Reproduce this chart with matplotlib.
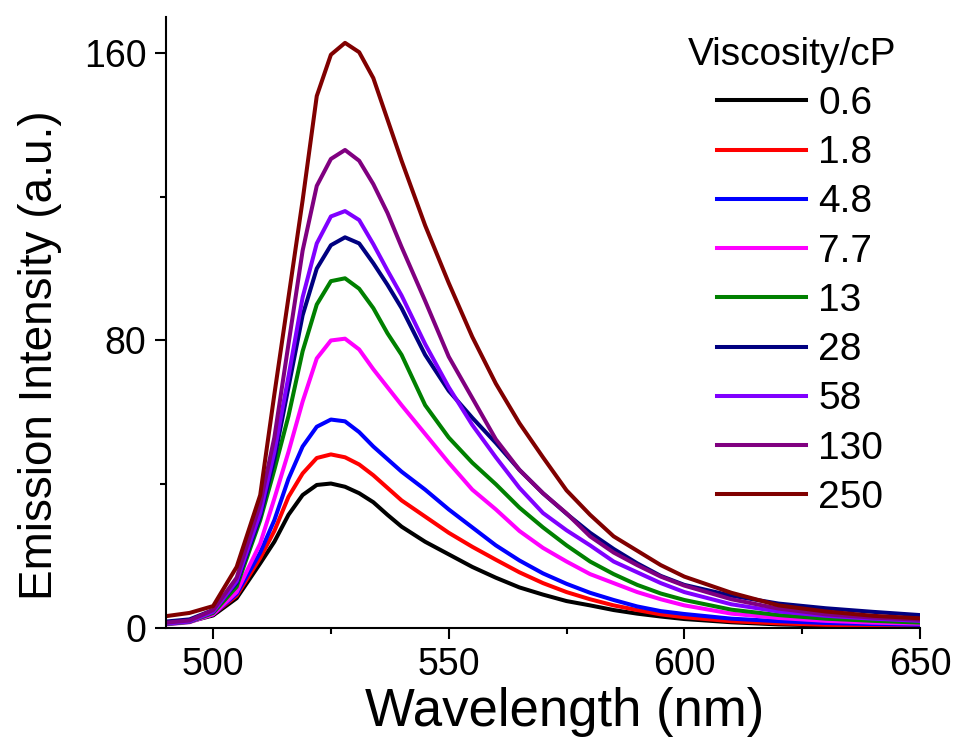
import numpy as np
import matplotlib
matplotlib.use('Agg')
import matplotlib.pyplot as plt
from matplotlib.ticker import MultipleLocator

plt.rcParams['font.family'] = ['Liberation Sans', 'DejaVu Sans']

# emission spectra sampled off the measurement, one array per viscosity
wavelength = [490, 495, 500, 505, 510, 513, 516, 519, 522, 525, 528, 531, 534, 537, 540,
              545, 550, 555, 560, 565, 570, 575, 580, 585, 590, 595, 600, 610, 620, 630, 640, 650]

em_0_6 = [1.3, 1.8, 3.5, 8.3, 18.0, 24.0, 31.5, 37.0, 39.8, 40.2, 39.3, 37.5, 35.0, 31.5, 28.2,
          24.0, 20.5, 17.0, 14.0, 11.3, 9.3, 7.5, 6.3, 5.0, 4.0, 3.2, 2.5, 1.6, 1.0, 0.7, 0.6, 0.5]
em_1_8 = [1.3, 1.9, 3.8, 9.0, 19.5, 27.0, 36.5, 43.0, 47.3, 48.3, 47.5, 45.5, 42.5, 39.0, 35.5,
          31.0, 26.5, 22.6, 19.0, 15.5, 12.5, 10.0, 8.0, 6.3, 5.0, 3.8, 3.0, 1.9, 1.3, 0.9, 0.7, 0.6]
em_4_8 = [1.2, 1.8, 3.8, 9.5, 21.0, 30.0, 41.5, 50.5, 56.0, 58.0, 57.5, 54.5, 50.5, 47.0, 43.5,
          38.5, 33.0, 28.0, 23.0, 18.8, 15.2, 12.3, 9.8, 7.8, 6.0, 4.7, 3.9, 2.6, 1.9, 1.4, 1.1, 0.9]
em_7_7 = [1.0, 1.6, 3.8, 10.0, 23.5, 36.0, 49.0, 63.0, 75.0, 80.0, 80.5, 77.5, 72.0, 67.0, 62.0,
          54.0, 46.0, 38.5, 33.0, 27.0, 22.3, 18.5, 15.0, 12.5, 10.0, 8.0, 6.3, 4.0, 2.8, 2.0, 1.5, 1.2]
em_13 = [1.1, 1.7, 4.2, 11.5, 30.0, 44.0, 59.0, 77.0, 90.0, 96.5, 97.3, 94.4, 89.0, 82.0, 76.0,
         62.0, 53.0, 46.0, 40.0, 33.5, 28.0, 23.0, 18.5, 15.0, 12.0, 9.6, 7.8, 5.1, 3.6, 2.6, 2.0, 1.5]
em_28 = [1.8, 2.4, 5.0, 12.5, 31.0, 47.0, 67.0, 87.0, 100.0, 106.5, 108.7, 107.0, 101.5, 95.5, 89.0,
         76.0, 66.0, 58.5, 51.5, 44.0, 37.5, 31.8, 26.5, 22.0, 18.0, 14.5, 12.0, 9.0, 6.8, 5.5, 4.5, 3.6]
em_58 = [1.2, 1.8, 4.5, 13.0, 32.0, 49.0, 70.0, 92.0, 107.0, 114.5, 116.0, 113.5, 106.8, 99.5, 92.5,
         79.0, 67.0, 56.5, 47.5, 39.0, 32.0, 27.2, 23.0, 18.5, 15.5, 12.5, 10.0, 6.6, 4.6, 3.4, 2.6, 2.0]
em_130 = [1.5, 2.1, 5.0, 14.0, 34.5, 53.0, 79.0, 105.0, 123.0, 130.5, 133.0, 130.0, 123.5, 115.5, 106.0,
          91.0, 75.5, 64.0, 52.5, 44.0, 37.5, 31.9, 25.5, 21.0, 17.5, 14.3, 11.8, 8.0, 5.4, 3.8, 2.9, 2.3]
em_250 = [3.3, 4.2, 6.1, 17.0, 37.0, 65.0, 92.0, 119.0, 148.0, 159.5, 162.8, 160.2, 153.0, 141.5, 130.0,
          112.0, 96.0, 81.0, 68.0, 57.0, 47.5, 38.3, 31.5, 25.5, 21.5, 17.5, 14.3, 9.8, 6.3, 4.6, 3.4, 2.7]

viscosity = ['0.6', '1.8', '4.8', '7.7', '13', '28', '58', '130', '250']
spectra = [em_0_6, em_1_8, em_4_8, em_7_7, em_13, em_28, em_58, em_130, em_250]
colors = ['#000000', '#FF0000', '#0000FF', '#FF00FF', '#008000',
          '#000080', '#8000FF', '#800080', '#800000']

fig = plt.figure(figsize=(9.56, 7.48), dpi=100)
ax = fig.add_axes([0.1736, 0.1604, 0.7887, 0.8169])

for lab, y, c in zip(viscosity, spectra, colors):
    ax.plot(wavelength, y, color=c, lw=2.9, label=lab)

ax.set_xlim(490, 650)
ax.set_ylim(0, 170)
ax.xaxis.set_major_locator(MultipleLocator(50))
ax.xaxis.set_minor_locator(MultipleLocator(25))
ax.yaxis.set_major_locator(MultipleLocator(80))
ax.yaxis.set_minor_locator(MultipleLocator(40))

for side in ['top', 'right']:
    ax.spines[side].set_visible(False)
for side in ['left', 'bottom']:
    ax.spines[side].set_linewidth(1.5)

ax.tick_params(which='major', direction='out', length=8, width=1.5, labelsize=27, pad=6)
ax.tick_params(which='minor', direction='out', length=4, width=1.5)

ax.set_xlabel('Wavelength (nm)', fontsize=38, va='center')
ax.set_ylabel('Emission Intensity (a.u.)', fontsize=33, va='center')
ax.xaxis.set_label_coords(0.529, -0.137)
ax.yaxis.set_label_coords(-0.167, 0.447)

fig.text(688 / 956, 1 - 55 / 748, 'Viscosity/cP', fontsize=28, ha='left', va='center')
ax.legend(loc='upper left', bbox_to_anchor=(717 / 956, 1 - 86 / 748),
          bbox_transform=fig.transFigure, frameon=False, fontsize=28,
          handlelength=2.3, handletextpad=0.3, labelspacing=0.34,
          borderpad=0, borderaxespad=0)

fig.savefig('out.png', dpi=100)
